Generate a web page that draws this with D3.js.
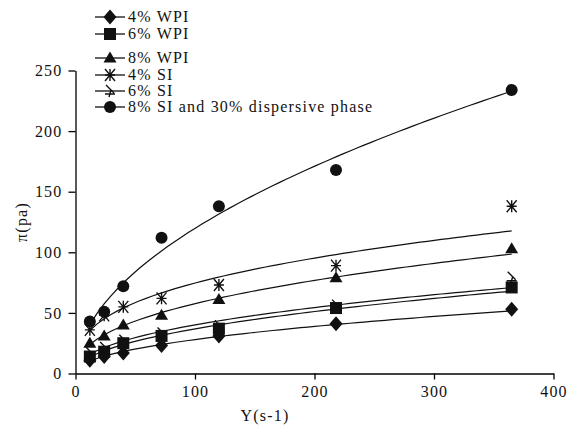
<!DOCTYPE html>
<html><head><meta charset="utf-8">
<script src="https://cdn.jsdelivr.net/npm/d3@7/dist/d3.min.js"></script>
<style>body{margin:0;background:#fff}svg{display:block}</style>
</head><body>
<script>
const shearRates = [12, 24, 40, 72, 120, 218, 365];
const wpi4 = [11, 14, 17, 23, 31, 41, 53];
const wpi6 = [14, 18, 25, 31, 37, 54, 71];
const wpi8 = [25, 31, 40, 48, 61, 79, 103];
const si4  = [36, 48, 55, 62, 73, 89, 138];
const si6  = [17, 21, 27, 33, 39, 56, 79];
const si8  = [43, 51, 72, 112, 138, 168, 234];
const seriesNames = ["4% WPI", "6% WPI", "8% WPI", "4% SI", "6% SI", "8% SI and 30% dispersive phase"];
const seriesMarkers = ["diamond", "square", "triangle", "star", "halfstar", "circle"];
const xTicks = [0, 100, 200, 300, 400];
const yTicks = [0, 50, 100, 150, 200, 250];
const xTitle = "Y(s-1)";
const yTitle = "π(pa)";

const series = [wpi4, wpi6, wpi8, si4, si6, si8].map((v, i) => ({name: seriesNames[i], marker: seriesMarkers[i], values: v}));

const W = 570, H = 431;
const svg = d3.select("body").append("svg").attr("width", W).attr("height", H);
const x = d3.scaleLinear().domain([0, 400]).range([75.5, 553.5]);
const y = d3.scaleLinear().domain([0, 250]).range([373.5, 70.5]);
const font = "'Liberation Serif', 'Times New Roman', serif";
const fs = 16, ls = 1.2;

// axes
const xAxis = svg.append("g").attr("transform", `translate(0,${y(0)})`)
  .call(d3.axisBottom(x).tickValues(xTicks).tickSize(6).tickSizeOuter(0).tickPadding(6));
const yAxis = svg.append("g").attr("transform", `translate(${x(0)},0)`)
  .call(d3.axisLeft(y).tickValues(yTicks).tickSize(7).tickSizeOuter(0).tickPadding(6));
[xAxis, yAxis].forEach(g => {
  g.selectAll("path").attr("stroke", "#000").attr("stroke-width", 1.3);
  g.selectAll("line").attr("stroke", "#000").attr("stroke-width", 1.3);
  g.selectAll("text").attr("font-family", font).attr("font-size", fs).attr("letter-spacing", ls).attr("fill", "#111");
});

svg.append("text").attr("x", 265).attr("y", 421).attr("text-anchor", "middle")
  .attr("font-family", font).attr("font-size", fs).attr("letter-spacing", ls).attr("fill", "#111").text(xTitle);
svg.append("text").attr("transform", "translate(27,222) rotate(-90)").attr("text-anchor", "middle")
  .attr("font-family", font).attr("font-size", fs).attr("letter-spacing", ls).attr("fill", "#111").text(yTitle);

// power-law trend lines (log-log least squares from data)
function powerFit(xs, ys) {
  const lx = xs.map(Math.log), ly = ys.map(Math.log);
  const mx = d3.mean(lx), my = d3.mean(ly);
  const b = d3.sum(lx.map((v, i) => (v - mx) * (ly[i] - my))) / d3.sum(lx.map(v => (v - mx) ** 2));
  const a = Math.exp(my - b * mx);
  return t => a * Math.pow(t, b);
}
const line = d3.line().x(d => x(d[0])).y(d => y(d[1]));
series.forEach(s => {
  const f = powerFit(shearRates, s.values);
  const x0 = shearRates[0], x1 = shearRates[shearRates.length - 1];
  const pts = d3.range(0, 61).map(i => { const t = x0 + (x1 - x0) * i / 60; return [t, f(t)]; });
  svg.append("path").attr("d", line(pts)).attr("fill", "none").attr("stroke", "#111").attr("stroke-width", 1.2);
});

function drawMarker(g, type, cx, cy) {
  const k = "#111";
  if (type === "diamond") g.append("path").attr("d", `M${cx},${cy-7.5}L${cx+6.5},${cy}L${cx},${cy+7.5}L${cx-6.5},${cy}Z`).attr("fill", k);
  else if (type === "square") g.append("rect").attr("x", cx-6).attr("y", cy-6).attr("width", 12).attr("height", 12).attr("fill", k);
  else if (type === "triangle") g.append("path").attr("d", `M${cx},${cy-6.5}L${cx+6.5},${cy+4.5}L${cx-6.5},${cy+4.5}Z`).attr("fill", k);
  else if (type === "circle") g.append("circle").attr("cx", cx).attr("cy", cy).attr("r", 6).attr("fill", k);
  else if (type === "star") g.append("path").attr("d", `M${cx-5},${cy-6}L${cx+5},${cy+6}M${cx+5},${cy-6}L${cx-5},${cy+6}M${cx},${cy-6}L${cx},${cy+6}M${cx-5},${cy}L${cx+5},${cy}`).attr("stroke", k).attr("stroke-width", 1.4).attr("fill", "none");
  else if (type === "halfstar") g.append("path").attr("d", `M${cx-4},${cy-6}L${cx+4},${cy+2}M${cx-5},${cy+3}L${cx+5},${cy+3}M${cx+1},${cy-1}L${cx-1},${cy+6}`).attr("stroke", k).attr("stroke-width", 1.4).attr("fill", "none");
}

const marks = svg.append("g");
series.forEach(s => {
  s.values.forEach((v, i) => drawMarker(marks, s.marker, x(shearRates[i]), y(v)));
});

// legend
const legendY = [17, 34, 58, 75, 91, 107];
const lg = svg.append("g");
series.forEach((s, i) => {
  const ly = legendY[i];
  lg.append("line").attr("x1", 95).attr("x2", 125).attr("y1", ly).attr("y2", ly).attr("stroke", "#111").attr("stroke-width", 1.3);
  drawMarker(lg, s.marker, 110, ly);
  lg.append("text").attr("x", 128).attr("y", ly + 5).attr("font-family", font).attr("font-size", fs).attr("letter-spacing", ls).attr("fill", "#111").text(s.name);
});
</script>
</body></html>
